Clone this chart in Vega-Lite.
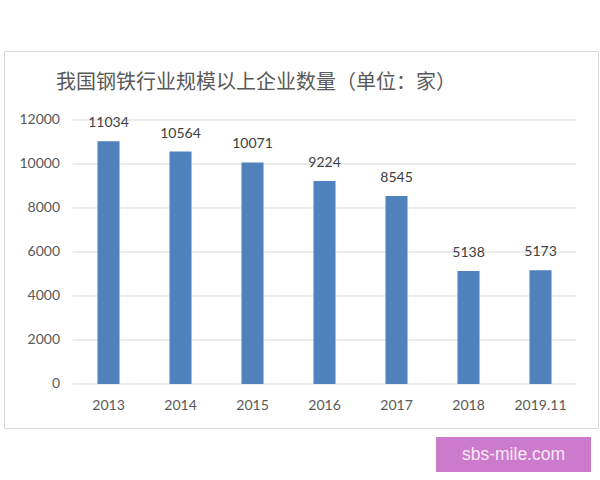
{
  "$schema": "https://vega.github.io/schema/vega-lite/v6.json",
  "background": "white",
  "padding": {"left": 3, "top": 50, "right": 0, "bottom": 0},
  "spacing": 8,
  "config": {"concat": {"spacing": 8}},
  "vconcat": [
    {
      "width": 594,
      "height": 377,
      "view": {"stroke": "#d9d9d9", "fill": "white"},
      "title": {
        "text": "我国钢铁行业规模以上企业数量（单位：家）",
        "font": "Noto Sans CJK SC",
        "fontSize": 20,
        "fontWeight": "normal",
        "color": "#595959",
        "anchor": "middle",
        "dx": -45,
        "offset": -42
      },
      "data": {
        "values": [
          {"year": "2013", "count": 11034},
          {"year": "2014", "count": 10564},
          {"year": "2015", "count": 10071},
          {"year": "2016", "count": 9224},
          {"year": "2017", "count": 8545},
          {"year": "2018", "count": 5138},
          {"year": "2019.11", "count": 5173}
        ]
      },
      "layer": [
        {
          "data": {"values": [{"v": 0}, {"v": 2000}, {"v": 4000}, {"v": 6000}, {"v": 8000}, {"v": 10000}, {"v": 12000}]},
          "mark": {"type": "rule", "color": "#d9d9d9", "strokeWidth": 1},
          "encoding": {
            "y": {"field": "v", "type": "quantitative"},
            "x": {"datum": "2013", "type": "nominal", "bandPosition": 0},
            "x2": {"datum": "2019.11", "bandPosition": 1}
          }
        },
        {
          "mark": {"type": "bar", "color": "#4f81bd", "width": {"band": 0.306}},
          "encoding": {
            "x": {"field": "year", "type": "nominal"},
            "y": {"field": "count", "type": "quantitative"}
          }
        },
        {
          "mark": {"type": "text", "baseline": "alphabetic", "dy": -14, "font": "Lato", "fontSize": 14, "color": "#404040"},
          "encoding": {
            "x": {"field": "year", "type": "nominal"},
            "y": {"field": "count", "type": "quantitative"},
            "text": {"field": "count", "type": "quantitative", "format": "d"}
          }
        }
      ],
      "resolve": {"scale": {"x": "shared", "y": "shared"}},
      "encoding": {
        "x": {
          "scale": {"domain": ["2013", "2014", "2015", "2016", "2017", "2018", "2019.11"], "range": [68.5, 572.5], "paddingInner": 0, "paddingOuter": 0},
          "axis": {"orient": "bottom", "offset": -44, "domain": false, "ticks": false, "grid": false, "labelAngle": 0, "labelPadding": 14, "labelFont": "Lato", "labelFontSize": 14, "labelColor": "#595959", "title": null}
        },
        "y": {
          "scale": {"domain": [-2000, 15136], "nice": false, "zero": false},
          "axis": {"orient": "left", "offset": -68.5, "values": [0, 2000, 4000, 6000, 8000, 10000, 12000], "domain": false, "ticks": false, "grid": false, "labelPadding": 13, "labelFont": "Lato", "labelFontSize": 14, "labelColor": "#595959", "title": null, "format": "d"}
        }
      }
    },
    {
      "hconcat": [
        {
          "width": 1,
          "height": 35,
          "view": {"stroke": null, "fill": null},
          "data": {"values": []},
          "mark": "rect",
          "encoding": {}
        },
        {
          "width": 155,
          "height": 35,
          "view": {"stroke": null, "fill": "#cc7acc"},
          "data": {"values": [{"site": "sbs-mile.com"}]},
          "mark": {"type": "text", "font": "Liberation Sans", "fontSize": 17.5, "color": "#f6eaf6", "baseline": "middle", "align": "center"},
          "encoding": {"text": {"field": "site", "type": "nominal"}}
        }
      ],
      "spacing": 431
    }
  ]
}
